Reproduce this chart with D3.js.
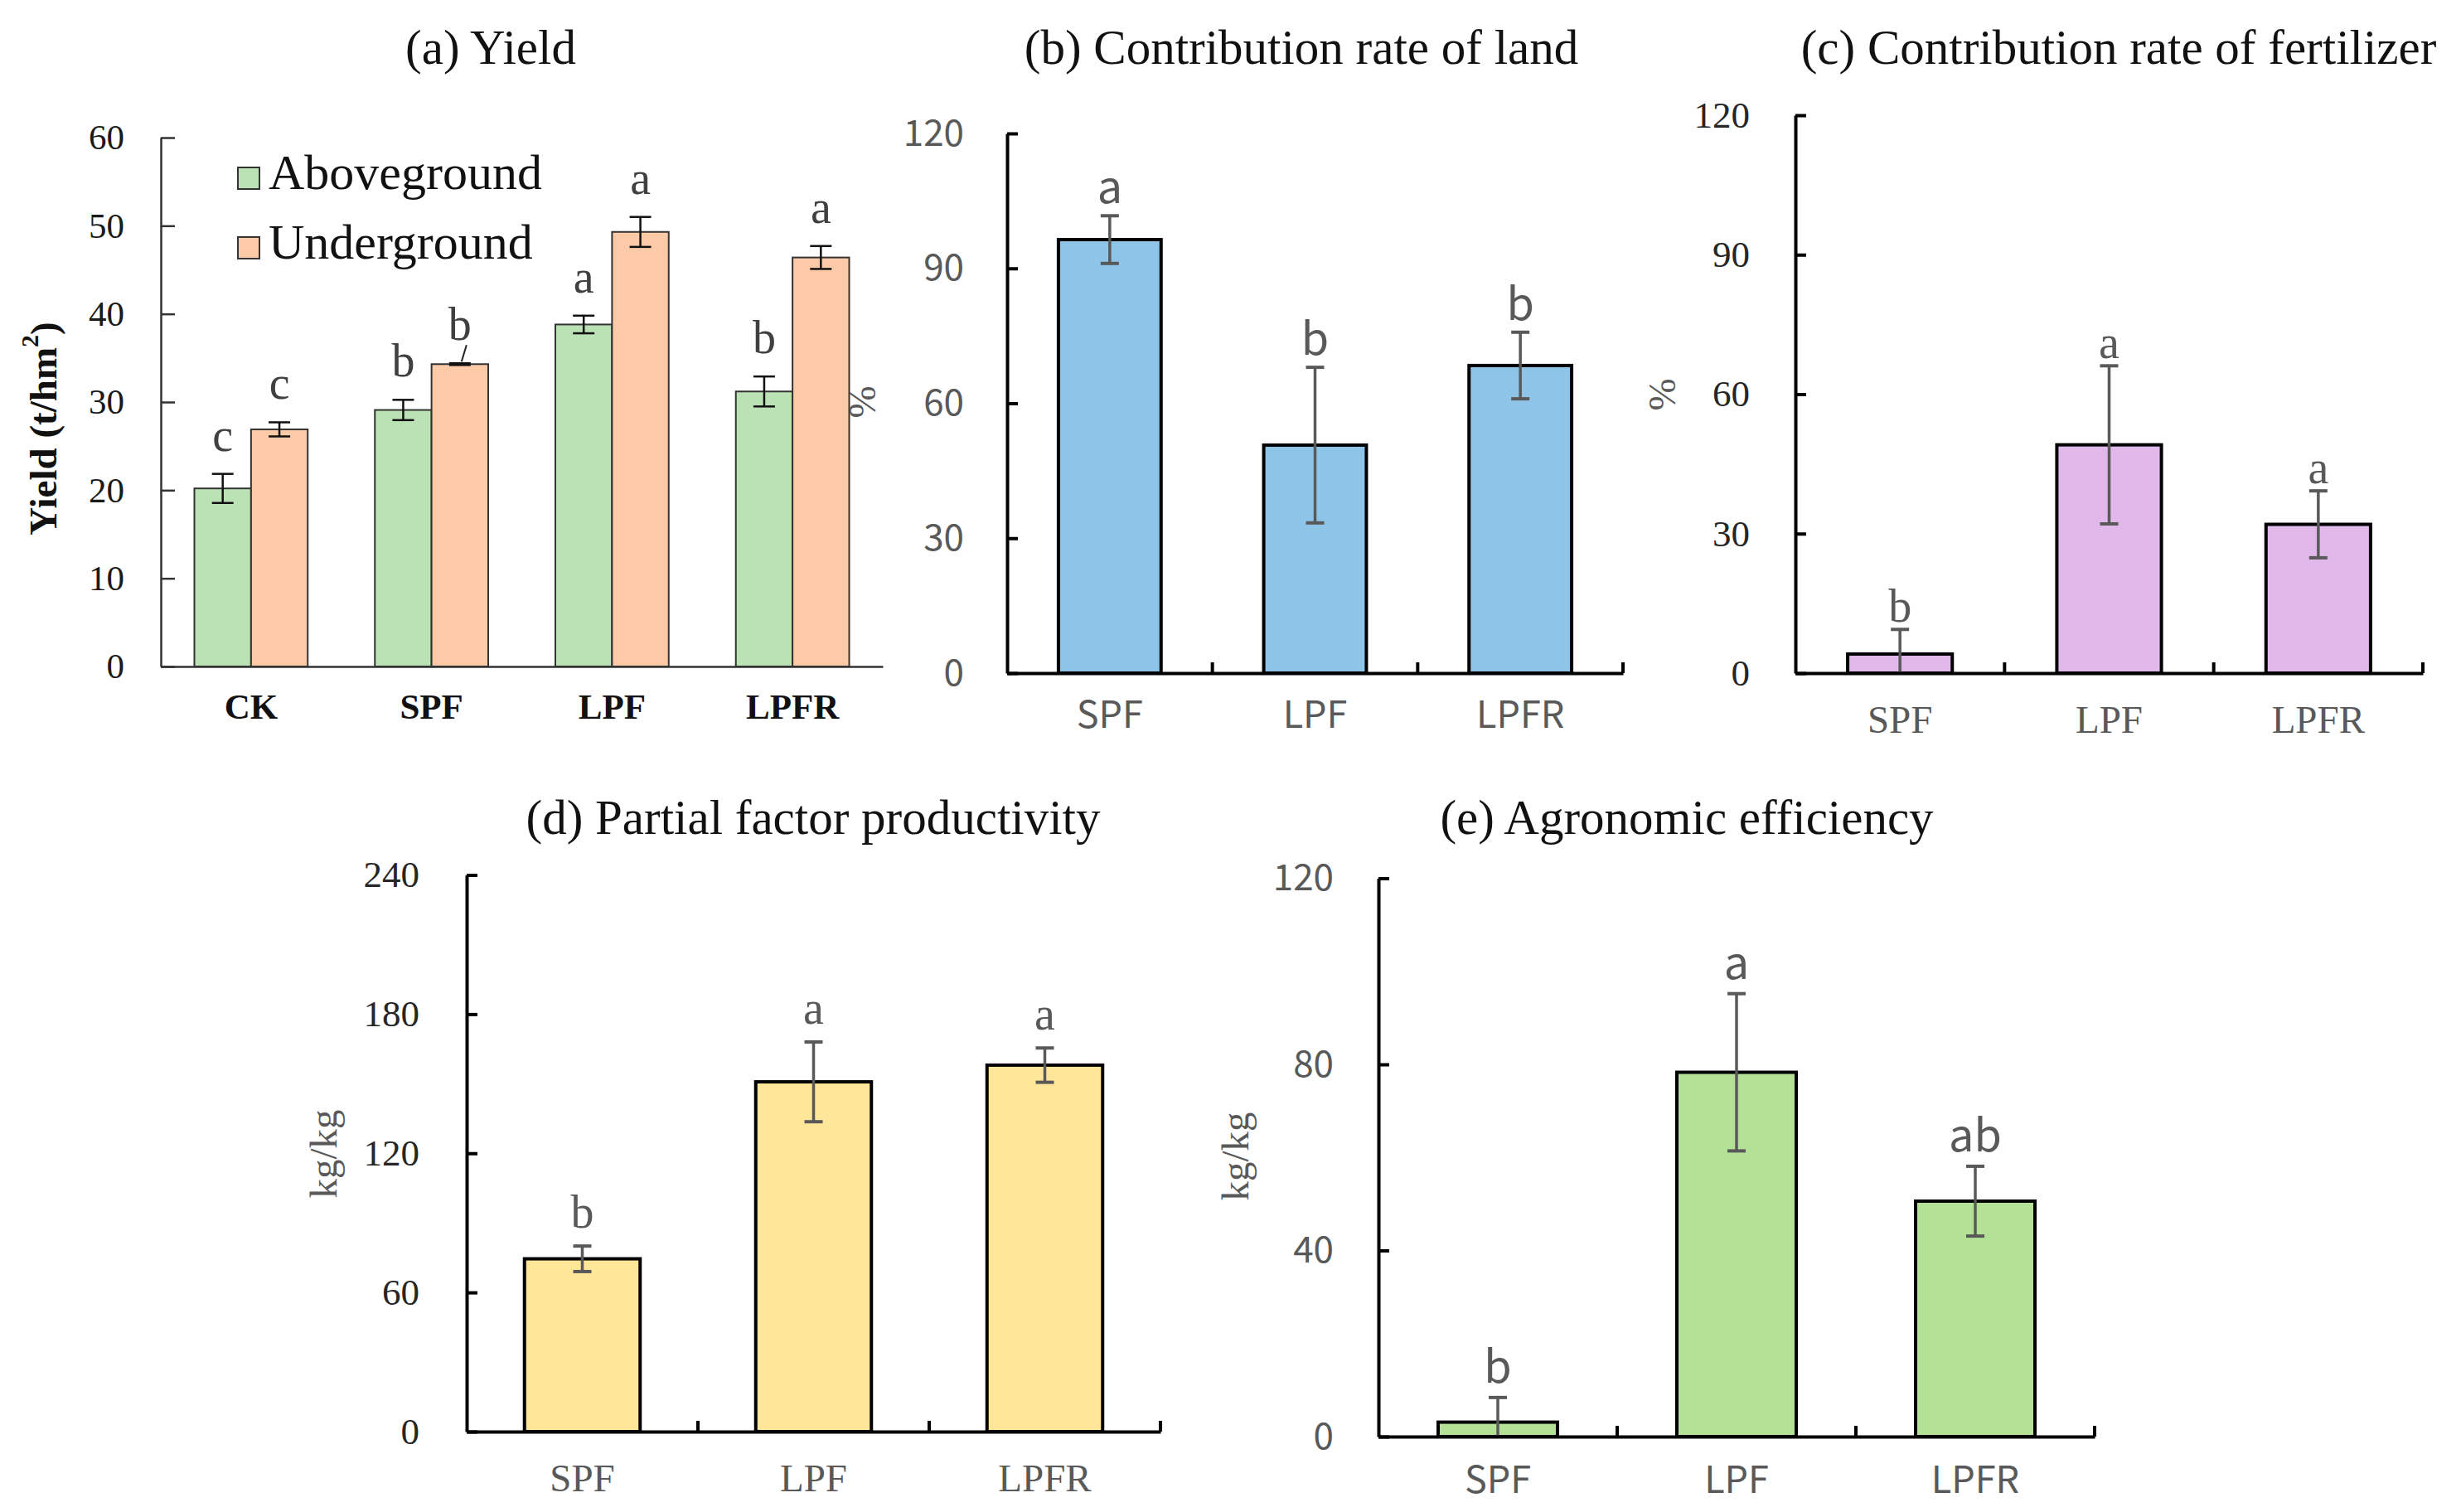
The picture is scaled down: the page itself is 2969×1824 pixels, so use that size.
<!DOCTYPE html>
<html><head><meta charset="utf-8">
<script src="https://cdn.jsdelivr.net/npm/d3@7/dist/d3.min.js"></script>
<style>html,body{margin:0;padding:0;background:#fff;}svg{display:block;}</style>
</head><body>
<script>
// ---------------- DATA ----------------
const catsA = ["CK", "SPF", "LPF", "LPFR"];
const seriesA = ["Aboveground", "Underground"];
const aboveVals = [20.2, 29.1, 38.8, 31.2];
const aboveErr = [1.65, 1.15, 1.0, 1.7];
const aboveLetters = ["c", "b", "a", "b"];
const underVals = [26.9, 34.3, 49.3, 46.4];
const underErr = [0.8, 0.1, 1.7, 1.3];
const underLetters = ["c", "b", "a", "a"];
const ticksA = [0, 10, 20, 30, 40, 50, 60];

const cats = ["SPF", "LPF", "LPFR"];
const landVals = [96.4, 50.7, 68.4];
const landErr = [5.3, 17.3, 7.4];
const landLetters = ["a", "b", "b"];
const ticksLand = [0, 30, 60, 90, 120];

const fertVals = [4.1, 49.1, 32.0];
const fertErr = [5.3, 17.0, 7.2];
const fertLetters = ["b", "a", "a"];
const ticksFert = [0, 30, 60, 90, 120];

const pfpVals = [74.5, 150.8, 158.0];
const pfpErr = [5.5, 17.2, 7.4];
const pfpLetters = ["b", "a", "a"];
const ticksPfp = [0, 60, 120, 180, 240];

const aeVals = [3.1, 78.3, 50.6];
const aeErr = [5.3, 16.9, 7.5];
const aeLetters = ["b", "a", "ab"];
const ticksAe = [0, 40, 80, 120];

// ---------------- SETUP ----------------
const W = 2969, H = 1824;
const SERIF = "'Liberation Serif','Times New Roman',serif";
const SANS = "'Noto Sans CJK SC','Noto Sans',sans-serif";
const GRAY = "#595959";

const svg = d3.select("body").append("svg")
  .attr("width", W).attr("height", H).attr("viewBox", `0 0 ${W} ${H}`);
svg.append("rect").attr("width", W).attr("height", H).attr("fill", "#fff");

function title(text, cx, baseline) {
  svg.append("text").attr("x", cx).attr("y", baseline)
    .attr("text-anchor", "middle").attr("font-family", SERIF)
    .attr("font-size", 59).attr("fill", "#111").text(text);
}
function yLabel(text, cx, cy, opts) {
  const t = svg.append("text")
    .attr("transform", `translate(${cx},${cy}) rotate(-90)`)
    .attr("text-anchor", "middle").attr("dy", "0.35em")
    .attr("font-family", opts.family).attr("font-size", opts.size)
    .attr("font-weight", opts.weight || "normal").attr("fill", opts.color);
  return t;
}

// ---------------- PANEL (a) ----------------
(function () {
  const L = { x0: 194, x1: 1065, yb: 804, yt: 166 };
  const g = svg.append("g");
  const x = d3.scaleBand().domain(catsA).range([L.x0, L.x1]).padding(0);
  const groupW = x.bandwidth() * 0.628;
  const xs = d3.scaleBand().domain(seriesA).range([0, groupW]).padding(0);
  const y = d3.scaleLinear().domain([0, 60]).range([L.yb, L.yt]);
  const colors = { Aboveground: "#BBE2B5", Underground: "#FDCAA8" };
  const rows = [];
  catsA.forEach((c, i) => {
    rows.push({ c, s: "Aboveground", v: aboveVals[i], e: aboveErr[i], l: aboveLetters[i] });
    rows.push({ c, s: "Underground", v: underVals[i], e: underErr[i], l: underLetters[i] });
  });
  const bx = d => x(d.c) + (x.bandwidth() - groupW) / 2 + xs(d.s);

  g.selectAll("rect.bar").data(rows).join("rect")
    .attr("x", bx).attr("width", xs.bandwidth())
    .attr("y", d => y(d.v)).attr("height", d => y(0) - y(d.v))
    .attr("fill", d => colors[d.s]).attr("stroke", "#333").attr("stroke-width", 2);

  // error bars
  const cap = 13;
  rows.forEach(d => {
    const cx = bx(d) + xs.bandwidth() / 2;
    const top = y(d.v + d.e), bot = y(Math.max(0, d.v - d.e));
    g.append("line").attr("x1", cx).attr("x2", cx).attr("y1", top).attr("y2", bot)
      .attr("stroke", "#111").attr("stroke-width", 2.5);
    [top, bot].forEach(yy => g.append("line").attr("x1", cx - cap).attr("x2", cx + cap)
      .attr("y1", yy).attr("y2", yy).attr("stroke", "#111").attr("stroke-width", 2.5));
  });
  // letters
  rows.forEach(d => {
    const cx = bx(d) + xs.bandwidth() / 2;
    g.append("text").attr("x", cx).attr("y", y(d.v + d.e) - 28)
      .attr("text-anchor", "middle").attr("font-family", SERIF).attr("font-size", 56)
      .attr("fill", "#404040").text(d.l);
  });
  // leader line for SPF underground label
  const sp = rows[3];
  const spx = bx(sp) + xs.bandwidth() / 2;
  g.append("line").attr("x1", spx + 8).attr("y1", y(sp.v + sp.e) - 22)
    .attr("x2", spx + 2).attr("y2", y(sp.v + sp.e) - 2)
    .attr("stroke", "#222").attr("stroke-width", 2);

  // y axis
  const ya = d3.axisLeft(y).tickValues(ticksA).tickSizeInner(-17).tickSizeOuter(0).tickPadding(44);
  const yg = g.append("g").attr("transform", `translate(${L.x0},0)`).call(ya);
  yg.selectAll("path,line").attr("stroke", "#333").attr("stroke-width", 2.5);
  yg.selectAll("text").attr("font-family", SERIF).attr("font-size", 43).attr("fill", "#1a1a1a");
  // x axis
  const xa = d3.axisBottom(x).tickSize(0).tickSizeOuter(0);
  const xg = g.append("g").attr("transform", `translate(0,${L.yb})`).call(xa);
  xg.select("path").attr("stroke", "#333").attr("stroke-width", 2.5);
  xg.selectAll("text").attr("y", 63).attr("dy", 0).attr("font-family", SERIF)
    .attr("font-weight", "bold").attr("font-size", 43).attr("fill", "#111");

  // legend
  seriesA.forEach((s, i) => {
    const yy = 202 + i * 84;
    g.append("rect").attr("x", 287).attr("y", yy).attr("width", 26).attr("height", 26)
      .attr("fill", colors[s]).attr("stroke", "#333").attr("stroke-width", 2);
    g.append("text").attr("x", 324).attr("y", yy + 26).attr("font-family", SERIF)
      .attr("font-size", 60).attr("fill", "#111").text(s);
  });

  title("(a) Yield", 592, 77);
  const yl = yLabel("", 52, 517, { family: SERIF, size: 47, weight: "bold", color: "#111" });
  yl.append("tspan").text("Yield (t/hm");
  yl.append("tspan").attr("font-size", 30).attr("dy", "-0.75em").text("2");
  yl.append("tspan").attr("dy", "0.5em").text(")");
})();

// ---------------- SIMPLE PANELS ----------------
function simplePanel(cfg) {
  const g = svg.append("g");
  const x = d3.scaleBand().domain(cats).range([cfg.x0, cfg.x1]).padding(0);
  const y = d3.scaleLinear().domain([0, cfg.ticks[cfg.ticks.length - 1]]).range([cfg.yb, cfg.yt]);
  const bw = x.bandwidth() * 0.5;
  const rows = cats.map((c, i) => ({ c, v: cfg.vals[i], e: cfg.errs[i], l: cfg.letters[i] }));
  const cxOf = d => x(d.c) + x.bandwidth() / 2;

  g.selectAll("rect.bar").data(rows).join("rect")
    .attr("x", d => cxOf(d) - bw / 2).attr("width", bw)
    .attr("y", d => y(d.v)).attr("height", d => y(0) - y(d.v))
    .attr("fill", cfg.color).attr("stroke", "#000").attr("stroke-width", 4);

  const cap = 11;
  rows.forEach(d => {
    const cx = cxOf(d);
    const top = y(d.v + d.e), bot = y(Math.max(0, d.v - d.e));
    g.append("line").attr("x1", cx).attr("x2", cx).attr("y1", top).attr("y2", bot)
      .attr("stroke", GRAY).attr("stroke-width", 3.5);
    g.append("line").attr("x1", cx - cap).attr("x2", cx + cap).attr("y1", top).attr("y2", top)
      .attr("stroke", GRAY).attr("stroke-width", 4);
    if (d.v - d.e > 0)
      g.append("line").attr("x1", cx - cap).attr("x2", cx + cap).attr("y1", bot).attr("y2", bot)
        .attr("stroke", GRAY).attr("stroke-width", 4);
    g.append("text").attr("x", cx).attr("y", top - cfg.letterGap)
      .attr("text-anchor", "middle").attr("font-family", cfg.letterFamily)
      .attr("font-size", cfg.letterSize).attr("fill", GRAY).text(d.l);
  });

  // y axis
  const ya = d3.axisLeft(y).tickValues(cfg.ticks).tickSizeInner(-13).tickSizeOuter(0).tickPadding(cfg.tickPad);
  const yg = g.append("g").attr("transform", `translate(${cfg.x0},0)`).call(ya);
  yg.selectAll("path,line").attr("stroke", "#000").attr("stroke-width", 4);
  yg.selectAll("text").attr("font-family", cfg.tickFamily).attr("font-size", cfg.tickSize).attr("fill", cfg.tickColor);

  // x axis
  const xa = d3.axisBottom(x).tickSize(0).tickSizeOuter(0);
  const xg = g.append("g").attr("transform", `translate(0,${cfg.yb})`).call(xa);
  xg.select("path").attr("stroke", "#000").attr("stroke-width", 4);
  xg.selectAll("text").attr("y", cfg.catGap).attr("dy", 0).attr("font-family", cfg.catFamily)
    .attr("font-size", cfg.catSize).attr("fill", GRAY);
  // boundary tick marks (pointing up) at category edges
  g.selectAll("line.bt").data(cats).join("line")
    .attr("x1", d => x(d) + x.step()).attr("x2", d => x(d) + x.step())
    .attr("y1", cfg.yb).attr("y2", cfg.yb - 13)
    .attr("stroke", "#000").attr("stroke-width", 4);

  title(cfg.title, cfg.titleX, cfg.titleY);
  yLabel(cfg.ylabel, cfg.ylx, cfg.yly, { family: SERIF, size: 47, color: GRAY }).text(cfg.ylabel);
}

simplePanel({
  vals: landVals, errs: landErr, letters: landLetters, ticks: ticksLand, color: "#8DC4E8",
  x0: 1215, x1: 1958, yb: 812, yt: 161, tickPad: 52, tickFamily: SANS, tickColor: GRAY, tickSize: 44,
  catFamily: SANS, catGap: 66, catSize: 45, letterFamily: SANS, letterGap: 15, letterSize: 54,
  title: "(b) Contribution rate of land", titleX: 1570, titleY: 77,
  ylabel: "%", ylx: 1040, yly: 485
});
simplePanel({
  vals: fertVals, errs: fertErr, letters: fertLetters, ticks: ticksFert, color: "#E0B9EA",
  x0: 2166, x1: 2923, yb: 812, yt: 139, tickPad: 55, tickFamily: SERIF, tickColor: "#262626", tickSize: 45,
  catFamily: SERIF, catGap: 72, catSize: 47, letterFamily: SERIF, letterGap: 9, letterSize: 56,
  title: "(c) Contribution rate of fertilizer", titleX: 2556, titleY: 77,
  ylabel: "%", ylx: 2005, yly: 476
});
simplePanel({
  vals: pfpVals, errs: pfpErr, letters: pfpLetters, ticks: ticksPfp, color: "#FFE699",
  x0: 563, x1: 1400, yb: 1727, yt: 1055.5, tickPad: 57, tickFamily: SERIF, tickColor: "#262626", tickSize: 45,
  catFamily: SERIF, catGap: 72, catSize: 47, letterFamily: SERIF, letterGap: 22, letterSize: 56,
  title: "(d) Partial factor productivity", titleX: 981, titleY: 1006,
  ylabel: "kg/kg", ylx: 390, yly: 1392
});
simplePanel({
  vals: aeVals, errs: aeErr, letters: aeLetters, ticks: ticksAe, color: "#B3E296",
  x0: 1663, x1: 2527, yb: 1733, yt: 1059.5, tickPad: 54, tickFamily: SANS, tickColor: GRAY, tickSize: 44,
  catFamily: SANS, catGap: 68, catSize: 45, letterFamily: SANS, letterGap: 18, letterSize: 54,
  title: "(e) Agronomic efficiency", titleX: 2035, titleY: 1006,
  ylabel: "kg/kg", ylx: 1490, yly: 1395
});
</script>
</body></html>
